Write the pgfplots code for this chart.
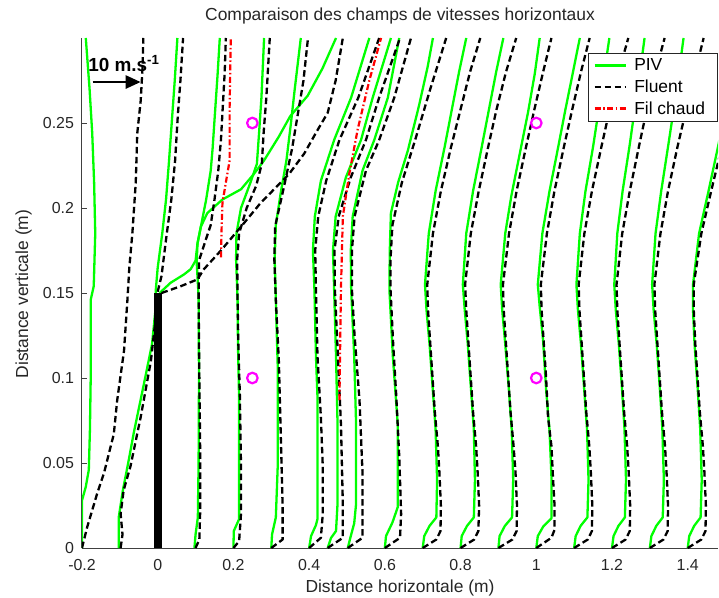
\documentclass[border=0pt]{standalone}
\usepackage{fontspec}
\setmainfont{Liberation Sans}
\usepackage{pgfplots}
\pgfplotsset{compat=1.18}
\usetikzlibrary{arrows.meta}
\definecolor{pivgreen}{RGB}{0,255,0}
\definecolor{filred}{RGB}{255,0,0}
\definecolor{circmag}{RGB}{255,0,255}
\begin{document}
\begin{tikzpicture}
\useasboundingbox (-82bp,-50bp) rectangle (637bp,548bp);
\begin{axis}[
  scale only axis, width=636bp, height=510bp,
  xmin=-0.2, xmax=1.48, ymin=0, ymax=0.3,
  axis lines=left, axis line style={-, black!75, line width=1bp},
  tick align=inside, major tick length=5bp, tick style={black!75, line width=0.8bp},
  xtick={-0.2,0,0.2,0.4,0.6,0.8,1,1.2,1.4},
  xticklabels={-0.2,0,0.2,0.4,0.6,0.8,1,1.2,1.4},
  ytick={0,0.05,0.1,0.15,0.2,0.25},
  yticklabels={0,0.05,0.1,0.15,0.2,0.25},
  tick label style={font=\fontsize{16}{18}\selectfont, text=black!85},
  xticklabel style={anchor=base, yshift=-22bp},
  yticklabel style={anchor=east, xshift=-4.5bp},
  title={Comparaison des champs de vitesses horizontaux},
  title style={at={(axis description cs:0.5,1)}, anchor=base, yshift=11.5bp, font=\fontsize{17.5}{20}\selectfont, text=black!85},
  xlabel={Distance horizontale (m)},
  xlabel style={at={(axis description cs:0.5,0)}, anchor=base, yshift=-44bp, font=\fontsize{17.5}{20}\selectfont, text=black!85},
  ylabel={Distance verticale (m)},
  ylabel style={at={(axis description cs:-0.0849,0.498)}, anchor=base, font=\fontsize{17.5}{20}\selectfont, text=black!85},
  legend style={at={(axis description cs:1,0.971)}, anchor=north east, draw=black!85, line width=1bp, fill=white,
    font=\fontsize{17.5}{19}\selectfont, inner xsep=5bp, inner ysep=4bp, row sep=4.5bp,
    nodes={inner ysep=1.5bp, inner xsep=7.5bp}},
  legend cell align=left,
  legend image code/.code={\draw[#1] (0bp,0bp) -- (31bp,0bp);},
  every axis plot/.append style={line join=round},
  clip=true,
]
\pgfplotsset{
  piv/.style={pivgreen, line width=2.3bp, solid},
  flu/.style={black, line width=2.3bp, dash pattern=on 6.5bp off 3.5bp},
  fil/.style={filred, line width=2.2bp, dash pattern=on 6bp off 2.5bp on 1.5bp off 2.5bp},
}
% ---------------- PIV (green) ----------------
\addplot[piv] coordinates {(-0.2,0) (-0.2,0.028) (-0.19,0.036) (-0.182,0.046) (-0.179,0.07) (-0.177,0.1) (-0.177,0.146) (-0.169,0.154) (-0.165,0.185) (-0.168,0.215) (-0.173,0.244) (-0.18,0.27) (-0.19,0.3)};
\addlegendentry{PIV}
\addplot[piv, forget plot] coordinates {(-0.103,0) (-0.103,0.018) (-0.092,0.034) (-0.078,0.05) (-0.063,0.068) (-0.036,0.097) (-0.015,0.12) (-0.006,0.14) (-0.005,0.152) (0.0,0.165) (0.012,0.185) (0.022,0.205) (0.03,0.228) (0.037,0.25) (0.045,0.275) (0.052,0.3)};
\addplot[piv, forget plot] coordinates {(0.005,0.15) (0.034,0.156) (0.07,0.161) (0.087,0.164) (0.1,0.169) (0.105,0.179) (0.114,0.189) (0.131,0.197) (0.171,0.205) (0.22,0.211) (0.254,0.22) (0.281,0.228) (0.32,0.242) (0.35,0.254) (0.396,0.266) (0.435,0.282) (0.471,0.3)};
\addplot[piv, forget plot] coordinates {(0.097,0) (0.1,0.008) (0.106,0.018) (0.108,0.05) (0.109,0.1) (0.108,0.148) (0.103,0.168) (0.105,0.179) (0.114,0.189) (0.128,0.205) (0.14,0.222) (0.145,0.235) (0.151,0.255) (0.158,0.278) (0.164,0.3)};
\addplot[piv, forget plot] coordinates {(0.2,0) (0.201,0.01) (0.215,0.017) (0.215,0.05) (0.215,0.087) (0.212,0.12) (0.211,0.146) (0.207,0.17) (0.208,0.185) (0.22,0.2) (0.245,0.215) (0.262,0.226) (0.268,0.245) (0.274,0.265) (0.281,0.3)};
\addplot[piv, forget plot] coordinates {(0.3,0) (0.302,0.008) (0.312,0.018) (0.317,0.048) (0.317,0.107) (0.312,0.146) (0.309,0.17) (0.312,0.19) (0.325,0.209) (0.34,0.228) (0.352,0.25) (0.362,0.27) (0.378,0.3)};
\addplot[piv, forget plot] coordinates {(0.4,0) (0.405,0.007) (0.418,0.0135) (0.422,0.017) (0.422,0.048) (0.422,0.089) (0.418,0.113) (0.414,0.152) (0.41,0.175) (0.415,0.195) (0.431,0.216) (0.466,0.24) (0.511,0.265) (0.559,0.3)};
\addplot[piv, forget plot] coordinates {(0.449,0) (0.458,0.006) (0.471,0.01) (0.475,0.026) (0.475,0.073) (0.471,0.113) (0.466,0.152) (0.463,0.175) (0.47,0.195) (0.497,0.218) (0.537,0.24) (0.568,0.265) (0.616,0.3)};
\addplot[piv, forget plot] coordinates {(0.502,0) (0.51,0.007) (0.519,0.0145) (0.524,0.026) (0.524,0.073) (0.519,0.113) (0.511,0.152) (0.51,0.175) (0.515,0.195) (0.541,0.222) (0.572,0.24) (0.608,0.265) (0.638,0.3)};
\addplot[piv, forget plot] coordinates {(0.6,0) (0.603,0.007) (0.62,0.015) (0.634,0.024) (0.634,0.073) (0.621,0.113) (0.612,0.152) (0.613,0.175) (0.616,0.197) (0.635,0.215) (0.661,0.234) (0.69,0.26) (0.713,0.283) (0.727,0.3)};
\addplot[piv, forget plot] coordinates {(0.7,0) (0.704,0.007) (0.718,0.013) (0.736,0.018) (0.738,0.04) (0.734,0.07) (0.726,0.095) (0.718,0.12) (0.71,0.14) (0.706,0.155) (0.716,0.185) (0.734,0.21) (0.758,0.236) (0.777,0.258) (0.796,0.28) (0.815,0.3)};
\addplot[piv, forget plot] coordinates {(0.8,0) (0.803,0.007) (0.817,0.013) (0.835,0.018) (0.838,0.04) (0.835,0.07) (0.827,0.095) (0.819,0.12) (0.811,0.14) (0.806,0.155) (0.815,0.185) (0.833,0.21) (0.856,0.236) (0.875,0.258) (0.894,0.28) (0.913,0.3)};
\addplot[piv, forget plot] coordinates {(0.9,0) (0.903,0.007) (0.917,0.013) (0.936,0.018) (0.939,0.04) (0.935,0.07) (0.927,0.095) (0.918,0.12) (0.91,0.14) (0.906,0.155) (0.918,0.185) (0.934,0.207) (0.96,0.236) (0.978,0.256) (0.996,0.279) (1.009,0.3)};
\addplot[piv, forget plot] coordinates {(1.0,0) (1.004,0.007) (1.018,0.0125) (1.04,0.0175) (1.04,0.042) (1.035,0.069) (1.026,0.093) (1.018,0.122) (1.009,0.142) (1.004,0.155) (1.016,0.185) (1.035,0.21) (1.058,0.236) (1.077,0.258) (1.097,0.28) (1.115,0.3)};
\addplot[piv, forget plot] coordinates {(1.1,0) (1.104,0.007) (1.117,0.013) (1.135,0.018) (1.138,0.04) (1.134,0.07) (1.126,0.095) (1.118,0.12) (1.11,0.14) (1.106,0.155) (1.115,0.185) (1.13,0.21) (1.15,0.236) (1.165,0.258) (1.18,0.28) (1.193,0.3)};
\addplot[piv, forget plot] coordinates {(1.2,0) (1.204,0.007) (1.217,0.013) (1.234,0.018) (1.237,0.04) (1.233,0.07) (1.226,0.095) (1.218,0.12) (1.21,0.14) (1.206,0.155) (1.214,0.185) (1.228,0.21) (1.246,0.236) (1.26,0.258) (1.274,0.28) (1.286,0.3)};
\addplot[piv, forget plot] coordinates {(1.3,0) (1.304,0.007) (1.317,0.013) (1.334,0.018) (1.337,0.04) (1.333,0.07) (1.326,0.095) (1.318,0.12) (1.31,0.14) (1.306,0.155) (1.315,0.185) (1.33,0.21) (1.348,0.236) (1.363,0.258) (1.377,0.28) (1.389,0.3)};
\addplot[piv, forget plot] coordinates {(1.4,0) (1.404,0.007) (1.417,0.013) (1.434,0.018) (1.437,0.04) (1.433,0.07) (1.426,0.095) (1.418,0.12) (1.414,0.14) (1.414,0.155) (1.43,0.185) (1.455,0.21) (1.48,0.236) (1.5,0.258) (1.52,0.28) (1.54,0.3)};
% ---------------- Fluent (black dashed) ----------------
\addplot[flu] coordinates {(-0.2,0) (-0.186,0.0125) (-0.16,0.032) (-0.142,0.044) (-0.116,0.067) (-0.107,0.087) (-0.089,0.116) (-0.08,0.146) (-0.075,0.165) (-0.067,0.185) (-0.058,0.215) (-0.054,0.244) (-0.045,0.263) (-0.04,0.283) (-0.038,0.3)};
\addlegendentry{Fluent}
\addplot[flu, forget plot] coordinates {(-0.098,0) (-0.093,0.008) (-0.098,0.02) (-0.09,0.034) (-0.072,0.048) (-0.045,0.077) (-0.018,0.11) (-0.008,0.13) (-0.003,0.148) (0.01,0.16) (0.024,0.185) (0.036,0.205) (0.046,0.228) (0.053,0.254) (0.06,0.275) (0.067,0.3)};
\addplot[flu, forget plot] coordinates {(0.01,0.15) (0.061,0.154) (0.105,0.158) (0.122,0.164) (0.167,0.175) (0.22,0.189) (0.272,0.203) (0.347,0.22) (0.387,0.232) (0.42,0.245) (0.449,0.256) (0.47,0.275) (0.489,0.3)};
\addplot[flu, forget plot] coordinates {(0.1,0) (0.11,0.005) (0.112,0.02) (0.112,0.06) (0.11,0.1) (0.108,0.148) (0.109,0.169) (0.125,0.18) (0.14,0.19) (0.15,0.205) (0.16,0.222) (0.167,0.24) (0.172,0.26) (0.177,0.28) (0.18,0.3)};
\addplot[flu, forget plot] coordinates {(0.2,0) (0.215,0.004) (0.22,0.02) (0.22,0.048) (0.217,0.09) (0.213,0.12) (0.211,0.146) (0.21,0.17) (0.215,0.185) (0.235,0.2) (0.26,0.213) (0.275,0.226) (0.28,0.245) (0.287,0.265) (0.296,0.3)};
\addplot[flu, forget plot] coordinates {(0.3,0) (0.33,0.005) (0.33,0.024) (0.325,0.067) (0.32,0.11) (0.312,0.146) (0.308,0.17) (0.31,0.189) (0.334,0.213) (0.355,0.235) (0.37,0.255) (0.385,0.275) (0.397,0.3)};
\addplot[flu, forget plot] coordinates {(0.4,0) (0.431,0.006) (0.436,0.02) (0.436,0.048) (0.431,0.077) (0.422,0.113) (0.418,0.152) (0.416,0.175) (0.424,0.195) (0.445,0.216) (0.48,0.24) (0.53,0.265) (0.585,0.3)};
\addplot[flu, forget plot] coordinates {(0.449,0) (0.489,0.006) (0.489,0.026) (0.484,0.073) (0.476,0.113) (0.468,0.152) (0.467,0.175) (0.478,0.195) (0.51,0.218) (0.55,0.24) (0.585,0.265) (0.64,0.3)};
\addplot[flu, forget plot] coordinates {(0.502,0) (0.541,0.006) (0.541,0.044) (0.533,0.087) (0.52,0.125) (0.513,0.152) (0.513,0.175) (0.52,0.195) (0.55,0.222) (0.585,0.24) (0.625,0.265) (0.669,0.3)};
\addplot[flu, forget plot] coordinates {(0.6,0) (0.64,0.006) (0.643,0.02) (0.638,0.054) (0.63,0.09) (0.622,0.12) (0.615,0.152) (0.615,0.17) (0.62,0.19) (0.645,0.215) (0.68,0.24) (0.72,0.27) (0.762,0.3)};
\addplot[flu, forget plot] coordinates {(0.7,0) (0.736,0.005) (0.747,0.01) (0.748,0.025) (0.744,0.045) (0.74,0.06) (0.732,0.08) (0.726,0.1) (0.72,0.12) (0.714,0.14) (0.712,0.155) (0.727,0.185) (0.748,0.21) (0.775,0.236) (0.8,0.258) (0.825,0.28) (0.852,0.3)};
\addplot[flu, forget plot] coordinates {(0.8,0) (0.836,0.005) (0.847,0.01) (0.849,0.025) (0.845,0.045) (0.841,0.06) (0.833,0.08) (0.827,0.1) (0.821,0.12) (0.815,0.14) (0.812,0.155) (0.827,0.185) (0.848,0.21) (0.873,0.236) (0.895,0.258) (0.92,0.28) (0.947,0.3)};
\addplot[flu, forget plot] coordinates {(0.9,0) (0.937,0.005) (0.948,0.01) (0.949,0.025) (0.945,0.045) (0.94,0.06) (0.932,0.08) (0.926,0.1) (0.92,0.12) (0.914,0.14) (0.912,0.155) (0.928,0.185) (0.948,0.21) (0.973,0.236) (0.995,0.258) (1.018,0.28) (1.04,0.3)};
\addplot[flu, forget plot] coordinates {(1.0,0) (1.04,0.006) (1.048,0.0106) (1.048,0.026) (1.044,0.042) (1.04,0.06) (1.031,0.077) (1.026,0.1) (1.02,0.12) (1.014,0.14) (1.012,0.155) (1.028,0.185) (1.048,0.21) (1.073,0.236) (1.095,0.258) (1.118,0.28) (1.141,0.3)};
\addplot[flu, forget plot] coordinates {(1.1,0) (1.136,0.005) (1.147,0.01) (1.148,0.025) (1.144,0.045) (1.14,0.06) (1.132,0.08) (1.126,0.1) (1.12,0.12) (1.114,0.14) (1.112,0.155) (1.127,0.185) (1.147,0.21) (1.172,0.236) (1.194,0.258) (1.218,0.28) (1.243,0.3)};
\addplot[flu, forget plot] coordinates {(1.2,0) (1.236,0.005) (1.247,0.01) (1.248,0.025) (1.244,0.045) (1.24,0.06) (1.232,0.08) (1.226,0.1) (1.22,0.12) (1.214,0.14) (1.212,0.155) (1.227,0.185) (1.247,0.21) (1.271,0.236) (1.292,0.258) (1.315,0.28) (1.339,0.3)};
\addplot[flu, forget plot] coordinates {(1.3,0) (1.336,0.005) (1.347,0.01) (1.348,0.025) (1.344,0.045) (1.34,0.06) (1.332,0.08) (1.326,0.1) (1.32,0.12) (1.314,0.14) (1.312,0.155) (1.328,0.185) (1.348,0.21) (1.373,0.236) (1.396,0.258) (1.42,0.28) (1.442,0.3)};
\addplot[flu, forget plot] coordinates {(1.4,0) (1.436,0.005) (1.447,0.01) (1.448,0.025) (1.444,0.045) (1.44,0.06) (1.432,0.08) (1.426,0.1) (1.42,0.12) (1.416,0.14) (1.416,0.155) (1.436,0.185) (1.462,0.21) (1.49,0.236) (1.52,0.258) (1.55,0.28) (1.58,0.3)};
% ---------------- Fil chaud (red dash-dot) ----------------
\addplot[fil] coordinates {(0.167,0.171) (0.169,0.19) (0.171,0.203) (0.18,0.215) (0.19,0.228) (0.19,0.26) (0.193,0.3)};
\addlegendentry{Fil chaud}
\addplot[fil, forget plot] coordinates {(0.48,0.087) (0.482,0.12) (0.484,0.152) (0.489,0.195) (0.506,0.22) (0.528,0.246) (0.559,0.275) (0.59,0.3)};
% obstacle
\addplot[black, line width=8bp, forget plot] coordinates {(0.001,0) (0.001,0.15)};
% hot-wire points
\addplot[only marks, mark=o, circmag, mark size=5.3bp, line width=2.2bp, forget plot] coordinates {(0.25,0.25) (0.25,0.1) (1.0,0.25) (1.0,0.1)};
% scale arrow
\addplot[black, line width=2.6bp, -{Triangle[length=15bp,width=13bp]}, forget plot] coordinates {(-0.172,0.2741) (-0.045,0.2741)};
\node[anchor=base west, inner sep=0pt, font=\fontsize{19}{21}\selectfont\bfseries] at (axis cs:-0.184,0.2805) {10 m.s\textsuperscript{-1}};
\end{axis}
\end{tikzpicture}
\end{document}
